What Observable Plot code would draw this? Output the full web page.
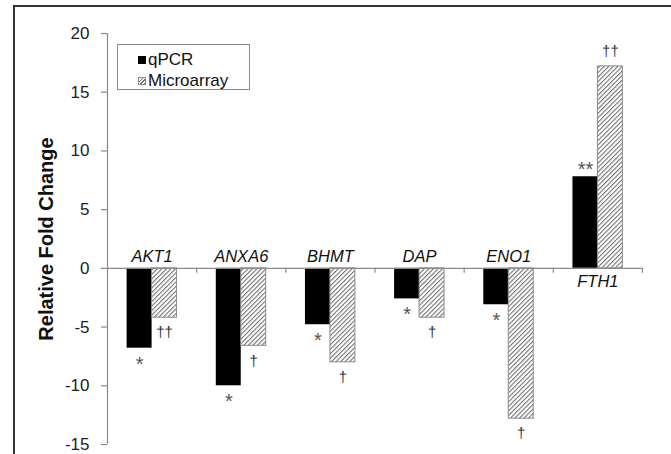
<!DOCTYPE html>
<html>
<head>
<meta charset="utf-8">
<script src="https://cdn.jsdelivr.net/npm/d3@7"></script>
<script src="https://cdn.jsdelivr.net/npm/@observablehq/plot@0.6"></script>
<style>
  html, body { margin: 0; padding: 0; background: #fff; overflow: hidden; }
  body { width: 671px; height: 454px; position: relative; font-family: "Liberation Sans", Arial, sans-serif; }
  #chart { position: absolute; left: 0; top: 0; }
  #border { position: absolute; left: 13px; top: 5px; width: 700px; height: 500px; border-left: 2px solid #333; border-top: 2px solid #333; }
  #legend { position: absolute; left: 117px; top: 44px; width: 131px; height: 44px; border: 1px solid #8a8a8a; background: #fff; font-size: 17px; color: #111; }
  #legend .item { position: absolute; left: 20px; display: flex; align-items: center; line-height: 1; }
  #legend .sw { width: 8px; height: 8px; margin-right: 2px; box-sizing: border-box; }
</style>
</head>
<body>
<div id="border"></div>
<div id="chart"></div>
<div id="legend"></div>
<script>
// ---- data ----
const genes = ["AKT1", "ANXA6", "BHMT", "DAP", "ENO1", "FTH1"];
const seriesNames = ["qPCR", "Microarray"];
const qpcr = [-6.8, -10.0, -4.8, -2.6, -3.1, 7.8];
const microarray = [-4.2, -6.6, -8.0, -4.2, -12.8, 17.2];
const qpcrSig = ["*", "*", "*", "*", "*", "**"];
const microSig = ["††", "†", "†", "†", "†", "††"];
const yTicks = [-15, -10, -5, 0, 5, 10, 15, 20];
const yLabel = "Relative Fold Change";

const rows = genes.map((g, i) => ({gene: g, i, qpcr: qpcr[i], micro: microarray[i], qs: qpcrSig[i], ms: microSig[i]}));

const barW = 0.28; // bar width in band units
const grey = "#8a8a8a";

const hatchDefs = () => {
  const defs = d3.create("svg:defs");
  const p = defs.append("pattern")
    .attr("id", "hatch")
    .attr("patternUnits", "userSpaceOnUse")
    .attr("width", 3.2).attr("height", 3.2)
    .attr("patternTransform", "rotate(45)");
  p.append("rect").attr("width", 3.2).attr("height", 3.2).attr("fill", "#fff");
  p.append("line").attr("x1", 0.5).attr("y1", 0).attr("x2", 0.5).attr("y2", 3.2)
    .attr("stroke", "#6e6e6e").attr("stroke-width", 1.1);
  return defs.node();
};

const plot = Plot.plot({
  width: 671,
  height: 454,
  marginLeft: 107,
  marginRight: 29,
  marginTop: 33,
  marginBottom: 10,
  style: {fontFamily: "'Liberation Sans', Arial, sans-serif", background: "transparent", overflow: "visible"},
  x: {domain: [0, genes.length], axis: null},
  y: {domain: [-15, 20], axis: null},
  marks: [
    hatchDefs,
    // bars
    Plot.rectY(rows, {x1: d => d.i + 0.5 - barW, x2: d => d.i + 0.5, y1: 0, y2: "qpcr", fill: "#000"}),
    Plot.rectY(rows, {x1: d => d.i + 0.5, x2: d => d.i + 0.5 + barW, y1: 0, y2: "micro", fill: "url(#hatch)", stroke: grey, strokeWidth: 1}),
    // zero line and category boundary ticks
    Plot.ruleY([0], {stroke: grey, strokeWidth: 1.2}),
    Plot.ruleX(d3.range(1, genes.length + 1), {y1: 0, y2: 0, insetBottom: -5, stroke: grey, strokeWidth: 1.2}),
    // y axis
    Plot.ruleX([0], {stroke: grey, strokeWidth: 1.2}),
    Plot.axisY({ticks: yTicks, tickFormat: d => String(d), tickSize: 6, tickPadding: 12, fontSize: 17, stroke: grey, fill: "#222", strokeWidth: 1.2}),
    Plot.text([yLabel], {frameAnchor: "left", textAnchor: "middle", dx: -61, rotate: -90, fontSize: 20, fontWeight: "bold", fill: "#111"}),
    // gene labels
    Plot.text(rows, {filter: d => Math.min(d.qpcr, d.micro) < 0, x: d => d.i + 0.5, y: 0, text: "gene", dy: -12, fontSize: 16.5, fontStyle: "italic", fill: "#111"}),
    Plot.text(rows, {filter: d => Math.min(d.qpcr, d.micro) >= 0, x: d => d.i + 0.5, y: 0, text: "gene", dy: 13, fontSize: 16.5, fontStyle: "italic", fill: "#111"}),
    // significance markers
    Plot.text(rows, {filter: d => d.qpcr < 0, x: d => d.i + 0.5 - barW / 2, y: "qpcr", text: "qs", dy: 16, fontSize: 20, fill: "#555"}),
    Plot.text(rows, {filter: d => d.qpcr >= 0, x: d => d.i + 0.5 - barW / 2, y: "qpcr", text: "qs", dy: -7.5, fontSize: 20, fill: "#555", letterSpacing: "1px"}),
    Plot.text(rows, {filter: d => d.micro < 0, x: d => d.i + 0.5 + barW / 2, y: "micro", text: "ms", dy: 15, fontSize: 15, fill: "#333", opacity: 0.99}),
    Plot.text(rows, {filter: d => d.micro >= 0, x: d => d.i + 0.5 + barW / 2, y: "micro", text: "ms", dy: -15.5, fontSize: 15, fill: "#333", opacity: 0.99})
  ]
});
document.getElementById("chart").appendChild(plot);

// legend
const legend = d3.select("#legend");
const swatchStyles = [
  "background:#000;",
  "background: repeating-linear-gradient(-45deg, #6e6e6e 0 1px, #fff 1px 2.6px); border:1px solid #8a8a8a;"
];
seriesNames.forEach((name, k) => {
  const item = legend.append("div").attr("class", "item").style("top", (k === 0 ? 6 : 27) + "px");
  item.append("div").attr("class", "sw").attr("style", swatchStyles[k]);
  item.append("span").text(name);
});
</script>
</body>
</html>
